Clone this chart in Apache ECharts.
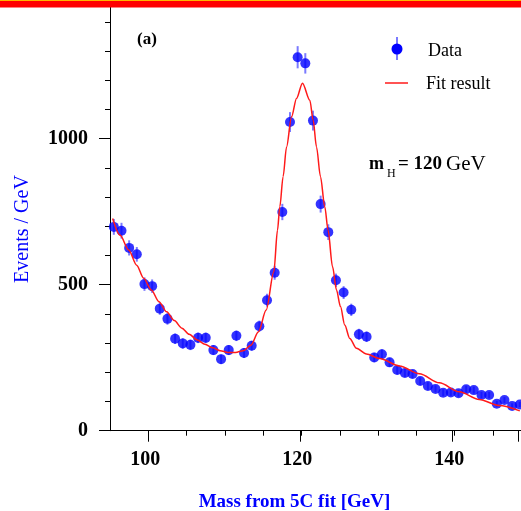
<!DOCTYPE html>
<html>
<head>
<meta charset="utf-8">
<script src="https://cdn.jsdelivr.net/npm/echarts@6/dist/echarts.min.js"></script>
<style>html,body{margin:0;padding:0;background:#fff;overflow:hidden;}#c{width:521px;height:511px;}</style>
</head>
<body>
<div id="c"></div>
<script>
// Data (bin centres in GeV) and events / GeV
var massBins = [95.5,96.5,97.5,98.5,99.5,100.5,101.5,102.5,103.5,104.5,105.5,106.5,107.5,108.5,109.5,110.5,111.5,112.5,113.5,114.5,115.5,116.5,117.5,118.5,119.5,120.5,121.5,122.5,123.5,124.5,125.5,126.5,127.5,128.5,129.5,130.5,131.5,132.5,133.5,134.5,135.5,136.5,137.5,138.5,139.5,140.5,141.5,142.5,143.5,144.5,145.5,146.5,147.5,148.5];
var events = [698,685,626,604,502,495,418,383,315,299,294,318,318,276,245,276,325,266,291,358,447,541,749,1057,1279,1258,1062,776,680,515,473,414,330,322,251,262,234,208,198,194,170,153,143,130,131,128,142,139,122,122,92,105,85,90];
var errors = [27,27,26,25,23,23,21,20,18,18,18,18,18,17,16,17,18,17,17,19,22,24,28,34,38,35,34,29,27,23,22,21,19,18,16,17,16,15,14,14,13,13,12,12,12,12,12,12,11,11,10,10,9,9];
// Fit curve
var fitMass = [95.35,96.3,97.44,98.48,99.4,100.39,101.39,102.4,103.39,104.39,105.34,106.39,107.39,108.43,109.39,110.39,111.39,112.39,113.39,114.39,115.39,116.39,116.87,117.17,117.6,118.05,118.7,119.35,120.13,121.09,121.52,121.96,122.48,123.04,123.47,124.05,124.57,125.09,125.65,126.3,127.18,128.48,130.2,132.8,135.4,138.0,140.6,143.2,145.8,148.5];
var fitValue = [727,670,619,567,522,482,442,407,377,351,330,311,296,284,274,268,268,274,293,339,413,544,687,767,870,972,1075,1138,1190,1132,1064,972,870,767,687,562,482,425,362,316,282,263,247,222,195,164,133,107,86,68];
// Axis labels
var xTickLabels = [100,120,140];
var yTickLabels = [0,500,1000];

var serif = '"Liberation Serif","Times New Roman",serif';
var chart = echarts.init(document.getElementById('c'), null, {renderer:'canvas'});

var pts = massBins.map(function(m,i){return [m, events[i]];});
var errs = massBins.map(function(m,i){return [m, events[i]-errors[i], events[i]+errors[i]];});
var fit = fitMass.map(function(m,i){return [m, fitValue[i]];});

var yMax = 1475;
var gBottom = 511 - 430.7;

var option = {
  animation:false,
  backgroundColor:'#ffffff',
  grid:[
    {left:110, right:0, top:0, bottom:gBottom},
    {left:148.3, right:0, top:0, bottom:gBottom},
    {left:148.3, right:0, top:0, bottom:gBottom}
  ],
  xAxis:[
    {type:'value', gridIndex:0, min:95, max:148.66, axisLine:{show:true,onZero:false,lineStyle:{color:'#000',width:1}}, axisTick:{show:false}, axisLabel:{show:false}, splitLine:{show:false}},
    {type:'value', gridIndex:1, min:100, max:148.66, interval:5, axisLine:{show:false}, axisTick:{show:true,length:5,lineStyle:{color:'#000'}}, axisLabel:{show:false}, splitLine:{show:false}},
    {type:'value', gridIndex:2, min:100, max:148.66, interval:20, axisLine:{show:false}, axisTick:{show:true,length:11,lineStyle:{color:'#000'}},
      axisLabel:{show:true, margin:19, padding:[0,6,0,0], fontFamily:serif, fontWeight:'bold', fontSize:20, color:'#000',
        formatter:function(v){return xTickLabels.indexOf(Math.round(v))>=0 && Math.abs(v-Math.round(v))<1e-6 ? String(Math.round(v)) : '';}},
      splitLine:{show:false}}
  ],
  yAxis:[
    {type:'value', gridIndex:0, position:'left', min:0, max:yMax, interval:100, axisLine:{show:true,onZero:false,lineStyle:{color:'#000',width:1}}, axisTick:{show:true,length:5,lineStyle:{color:'#000'}},
      axisLabel:{show:true, margin:22, fontFamily:serif, fontWeight:'bold', fontSize:20, color:'#000',
        formatter:function(v){return yTickLabels.indexOf(v)>=0 ? String(v) : '';}},
      splitLine:{show:false}},
    {type:'value', gridIndex:0, position:'left', min:0, max:yMax, interval:500, axisLine:{show:false}, axisTick:{show:true,length:11,lineStyle:{color:'#000'}}, axisLabel:{show:false}, splitLine:{show:false}},
    {type:'value', gridIndex:1, show:false, min:0, max:yMax},
    {type:'value', gridIndex:2, show:false, min:0, max:yMax}
  ],
  series:[
    {type:'custom', xAxisIndex:0, yAxisIndex:0, data:errs, encode:{x:0,y:[1,2]}, z:2,
      renderItem:function(params, api){
        var a = api.coord([api.value(0), api.value(1)]);
        var b = api.coord([api.value(0), api.value(2)]);
        return {type:'line', shape:{x1:a[0],y1:a[1],x2:b[0],y2:b[1]}, style:{stroke:'#7a7aff', lineWidth:2}};
      }},
    {type:'scatter', xAxisIndex:0, yAxisIndex:0, data:pts, symbol:'circle', symbolSize:10, itemStyle:{color:'#0000ff'}, z:3},
    {type:'line', xAxisIndex:0, yAxisIndex:0, data:fit, showSymbol:false, smooth:0.3, smoothMonotone:'x', lineStyle:{color:'#ff1a1a', width:1.5}, z:4}
  ],
  graphic:[
    {type:'rect', shape:{x:0,y:0,width:521,height:7.5}, style:{fill:'#ff0000'}, z:100},
    {type:'rect', shape:{x:0,y:0,width:521,height:1}, style:{fill:'#ffb400'}, z:101},
    {type:'text', x:147, y:40, style:{text:'(a)', font:'bold 17px '+serif, fill:'#000', textAlign:'center', textVerticalAlign:'middle'}, z:50},
    {type:'line', shape:{x1:397,y1:37,x2:397,y2:60}, style:{stroke:'#7a7aff', lineWidth:2}, z:50},
    {type:'circle', shape:{cx:397,cy:49,r:5.5}, style:{fill:'#0000ff'}, z:51},
    {type:'text', x:428, y:51, style:{text:'Data', font:'18px '+serif, fill:'#000', textAlign:'left', textVerticalAlign:'middle'}, z:50},
    {type:'line', shape:{x1:385,y1:83,x2:408,y2:83}, style:{stroke:'#ff1a1a', lineWidth:1.5}, z:50},
    {type:'text', x:426, y:84, style:{text:'Fit result', font:'18px '+serif, fill:'#000', textAlign:'left', textVerticalAlign:'middle'}, z:50},
    {type:'text', x:369, y:164, style:{text:'m', font:'bold 18px '+serif, fill:'#000', textAlign:'left', textVerticalAlign:'middle'}, z:50},
    {type:'text', x:387, y:174, style:{text:'H', font:'12px '+serif, fill:'#000', textAlign:'left', textVerticalAlign:'middle'}, z:50},
    {type:'text', x:398, y:164, style:{text:'= 120', font:'bold 19px '+serif, fill:'#000', textAlign:'left', textVerticalAlign:'middle'}, z:50},
    {type:'text', x:446, y:164, style:{text:'GeV', font:'21px '+serif, fill:'#000', textAlign:'left', textVerticalAlign:'middle'}, z:50},
    {type:'text', x:23, y:229, rotation:Math.PI/2, style:{text:'Events / GeV', font:'20px '+serif, fill:'#0000ff', textAlign:'center', textVerticalAlign:'middle'}, z:50},
    {type:'text', x:294.5, y:502, style:{text:'Mass from 5C fit [GeV]', font:'bold 19px '+serif, fill:'#0000ff', textAlign:'center', textVerticalAlign:'middle'}, z:50}
  ]
};
chart.setOption(option);
</script>
</body>
</html>
